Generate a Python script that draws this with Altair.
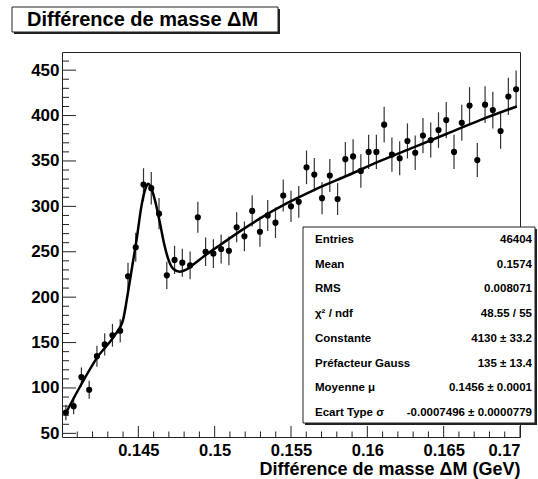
import altair as alt
import numpy as np
import pandas as pd

FONT = "Liberation Sans"

# Histogram of the mass difference: 59 bins between 0.14 and 0.17 GeV
x_min, x_max, n_bins = 0.14, 0.17, 59
y_min, y_max = 46, 470
counts = [73, 80, 112, 98, 135, 148, 158, 163, 223, 255,
          324, 320, 292, 224, 241, 238, 235, 288, 250, 248,
          253, 251, 277, 267, 295, 272, 290, 282, 312, 300,
          305, 343, 335, 309, 334, 308, 352, 355, 339, 360,
          360, 390, 357, 353, 372, 359, 378, 373, 384, 395,
          360, 392, 411, 351, 412, 406, 383, 421, 429]

# Fitted function (signal peak on top of the threshold background)
fit_x = [0.14018, 0.14123, 0.14232, 0.14341, 0.14400, 0.14430, 0.14460,
         0.14490, 0.14520, 0.14550, 0.14565, 0.14580, 0.14610, 0.14640,
         0.14670, 0.14700, 0.14730, 0.14770, 0.14810, 0.14860, 0.14930,
         0.15040, 0.15170, 0.15300, 0.15480, 0.15650, 0.15870, 0.16085,
         0.16303, 0.16521, 0.16739, 0.16979]
fit_y = [70, 103, 134, 157, 175, 203, 234,
         265, 300, 321, 325, 322, 306, 283,
         258, 240, 231, 228, 230, 236, 245,
         258, 273, 287, 304, 318, 334, 350,
         365, 380, 395, 410]

# Axis ticks and labels
x_major = [0.145, 0.15, 0.155, 0.16, 0.165, 0.17]
x_minor = [0.141, 0.142, 0.143, 0.144, 0.146, 0.147, 0.148, 0.149,
           0.151, 0.152, 0.153, 0.154, 0.156, 0.157, 0.158, 0.159,
           0.161, 0.162, 0.163, 0.164, 0.166, 0.167, 0.168, 0.169]
y_major = [50, 100, 150, 200, 250, 300, 350, 400, 450]
y_minor = [60, 70, 80, 90, 110, 120, 130, 140, 160, 170, 180, 190,
           210, 220, 230, 240, 260, 270, 280, 290, 310, 320, 330, 340,
           360, 370, 380, 390, 410, 420, 430, 440, 460]

title_text = "Différence de masse ΔM"
x_title = "Différence de masse ΔM (GeV)"

# Statistics / fit results box
stat_labels = ["Entries", "Mean", "RMS", "χ² / ndf", "Constante",
               "Préfacteur Gauss", "Moyenne μ", "Ecart Type σ"]
stat_values = ["46404", "0.1574", "0.008071", "48.55 / 55", "4130 ± 33.2",
               "135 ± 13.4", "0.1456 ± 0.0001", "-0.0007496 ± 0.0000779"]

W, H = 458, 385

edges = np.linspace(x_min, x_max, n_bins + 1)
centers = (edges[:-1] + edges[1:]) / 2
cnt = np.array(counts, dtype=float)
err = np.sqrt(cnt)
hist = pd.DataFrame({"dm": centers, "n": cnt, "lo": cnt - err, "hi": cnt + err})
fit = pd.DataFrame({"dm": fit_x, "n": fit_y})

x_scale = alt.Scale(domain=[x_min, x_max], nice=False, zero=False)
y_scale = alt.Scale(domain=[y_min, y_max], nice=False, zero=False)

x_axis = alt.Axis(values=x_major, format="~g", labelFont=FONT, labelFontWeight="bold",
                  labelFontSize=16.5, labelColor="black", ticks=False, tickSize=0,
                  domain=False, grid=False, labelPadding=5, labelFlush=True,
                  title=x_title, titleFont=FONT, titleFontWeight="bold",
                  titleFontSize=18, titleColor="black", titleAnchor="end",
                  titleAlign="right", titleBaseline="alphabetic", titleX=W, titleY=37)
y_axis = alt.Axis(values=y_major, format="d", labelFont=FONT, labelFontWeight="bold",
                  labelFontSize=17, labelColor="black", ticks=False, tickSize=0,
                  domain=False, grid=False, labelPadding=3, title="")

errbars = alt.Chart(hist).mark_rule(color="#333333", strokeWidth=1.2).encode(
    x=alt.X("dm:Q", scale=x_scale, axis=x_axis),
    y=alt.Y("lo:Q", scale=y_scale, axis=y_axis),
    y2="hi:Q",
)
points = alt.Chart(hist).mark_circle(size=38, color="black", opacity=1).encode(
    x="dm:Q", y=alt.Y("n:Q"),
)
curve = alt.Chart(fit).mark_line(color="black", strokeWidth=2.5, interpolate="monotone").encode(
    x="dm:Q", y=alt.Y("n:Q"),
)

tick_style = dict(color="#222222", strokeWidth=1)
xmaj = alt.Chart(pd.DataFrame({"dm": x_major})).mark_rule(**tick_style).encode(
    x="dm:Q", y=alt.value(H), y2=alt.value(H - 11))
xmin_t = alt.Chart(pd.DataFrame({"dm": x_minor})).mark_rule(**tick_style).encode(
    x="dm:Q", y=alt.value(H), y2=alt.value(H - 5.5))
ymaj = alt.Chart(pd.DataFrame({"n": y_major})).mark_rule(**tick_style).encode(
    y="n:Q", x=alt.value(0), x2=alt.value(14))
ymin_t = alt.Chart(pd.DataFrame({"n": y_minor})).mark_rule(**tick_style).encode(
    y="n:Q", x=alt.value(0), x2=alt.value(7))


def box(x0, x1, y0, y1, shadow=2):
    one = pd.DataFrame({"k": [0]})
    sh = alt.Chart(one).mark_rect(fill="#222222").encode(
        x=alt.value(x0 + shadow), x2=alt.value(x1 + shadow),
        y=alt.value(y0 + shadow), y2=alt.value(y1 + shadow))
    fg = alt.Chart(one).mark_rect(fill="white", stroke="#222222", strokeWidth=1).encode(
        x=alt.value(x0), x2=alt.value(x1), y=alt.value(y0), y2=alt.value(y1))
    return [sh, fg]


def label(text, x, y, size, align="left", baseline="middle"):
    return alt.Chart(pd.DataFrame({"t": [text]})).mark_text(
        align=align, baseline=baseline, font=FONT, fontSize=size,
        fontWeight="bold", color="black").encode(
        x=alt.value(x), y=alt.value(y), text="t:N")


layers = [errbars, points, curve, xmaj, xmin_t, ymaj, ymin_t]

# title pave
layers += box(-50, 216, -45, -20)
layers.append(label(title_text, -35, -26, 20, baseline="alphabetic"))

# statistics pave
layers += box(241, 473, 175, 371)
for i, (lab, val) in enumerate(zip(stat_labels, stat_values)):
    yy = 188 + i * 24.7
    layers.append(label(lab, 253, yy, 11.5))
    layers.append(label(val, 470, yy, 11.5, align="right"))

chart = alt.layer(*layers).properties(
    width=W, height=H,
    autosize=alt.AutoSizeParams(type="none"),
    padding={"left": 62, "top": 52, "right": 18, "bottom": 42},
    background="white",
).configure_view(stroke="#222222", strokeWidth=1)

chart.save("out.html", embed_options={"renderer": "svg", "actions": False})
